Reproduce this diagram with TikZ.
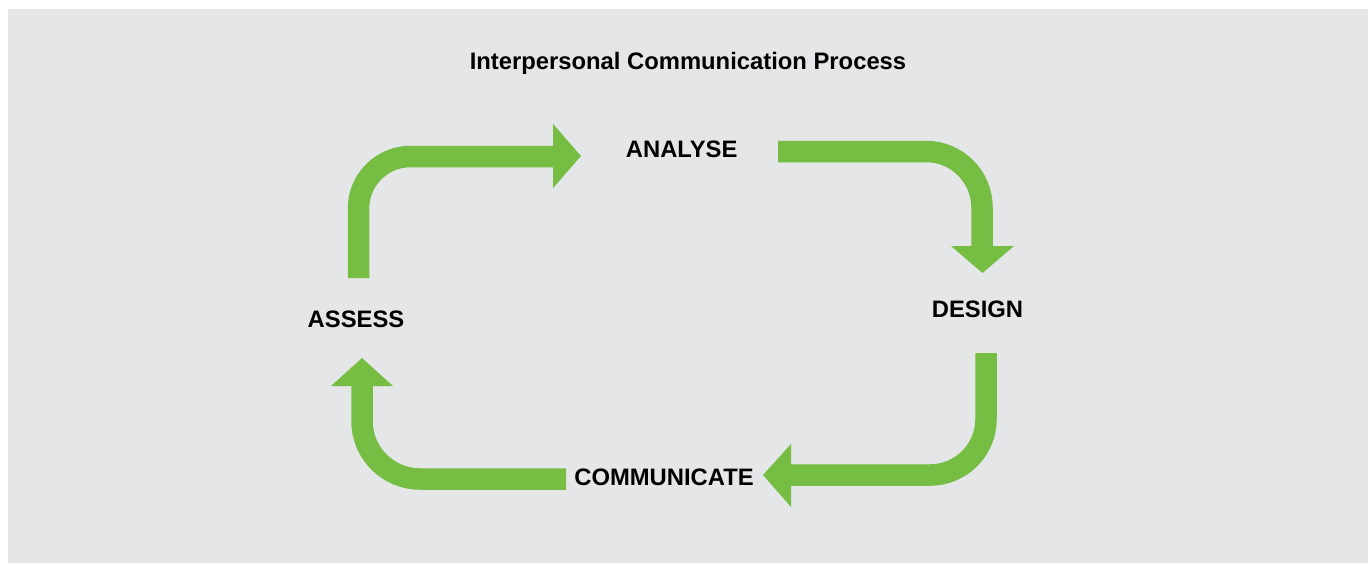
\documentclass[tikz,border=0pt]{standalone}
\usepackage{fontspec}
\setmainfont{Liberation Sans}
\definecolor{bggray}{RGB}{229,230,232}
\definecolor{arrowgreen}{RGB}{118,190,67}
\begin{document}
\begin{tikzpicture}[x=1pt,y=-1pt,
  lbl/.style={font=\fontsize{23.8}{27}\selectfont\bfseries, inner sep=0pt, anchor=base},
  bar/.style={draw=arrowgreen, line width=21.5pt, line cap=butt},
  head/.style={fill=arrowgreen, draw=none}]
\useasboundingbox (0,0) rectangle (1372,563);
\fill[bggray] (8,9) rectangle (1368,563);
\node[lbl] (title) at (688,69.3) {Interpersonal Communication Process};
\node[lbl] (analyse) at (681.7,157.3) {ANALYSE};
\node[lbl] (design) at (977.5,317.3) {DESIGN};
\node[lbl] (assess) at (356,327.3) {ASSESS};
\node[lbl] (communicate) at (664,485.3) {COMMUNICATE};
% arrow 1: assess -> analyse
\coordinate (a1s) at (358.5,278);
\coordinate (a1e) at (553.5,156.5);
\draw[bar, rounded corners=52pt] (a1s) |- (a1e);
\fill[head] (553,124) -- (581,156) -- (553,188) -- cycle;
% arrow 2: analyse -> design
\coordinate (a2s) at (778,151.5);
\coordinate (a2e) at (982,246.5);
\draw[bar, rounded corners=56pt] (a2s) -| (a2e);
\fill[head] (951,246) -- (1014,246) -- (982.5,273) -- cycle;
% arrow 3: design -> communicate
\coordinate (a3s) at (986,353);
\coordinate (a3e) at (790.5,475);
\draw[bar, rounded corners=56pt] (a3s) |- (a3e);
\fill[head] (791,444) -- (763,475) -- (791,507) -- cycle;
% arrow 4: communicate -> assess
\coordinate (a4s) at (566,479);
\coordinate (a4e) at (362,385.5);
\draw[bar, rounded corners=58pt] (a4s) -| (a4e);
\fill[head] (331,386) -- (393,386) -- (362,358) -- cycle;
\end{tikzpicture}
\end{document}
